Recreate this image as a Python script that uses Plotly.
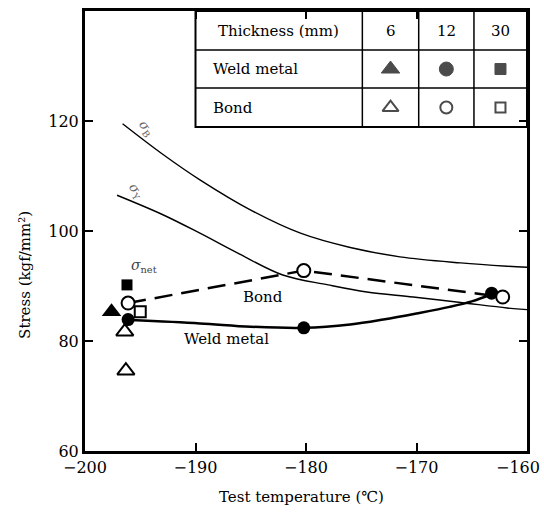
import plotly.graph_objects as go

# ---- data ----
sigma_b_x = [-196.6, -193.0, -189.6, -185.0, -180.5, -176.0, -171.5, -166.0, -161.8, -160.0]
sigma_b_y = [119.5, 114.0, 109.3, 103.8, 99.6, 97.0, 95.3, 94.2, 93.6, 93.4]

sigma_y_x = [-197.1, -193.0, -189.6, -186.0, -182.1, -178.0, -174.5, -170.3, -166.0, -161.8, -160.0]
sigma_y_y = [106.5, 103.0, 99.6, 95.8, 92.0, 90.2, 88.9, 88.0, 87.0, 86.0, 85.7]

weld_curve_x = [-195.9, -189.6, -185.0, -180.2, -176.0, -173.0, -170.0, -167.0, -165.0, -163.2]
weld_curve_y = [83.8, 83.2, 82.6, 82.4, 83.0, 83.9, 85.0, 86.2, 87.2, 88.5]

bond_line_x = [-196.1, -180.2, -162.2]
bond_line_y = [86.9, 92.8, 88.0]

# Weld metal (filled) points
weld_6_x = [-197.6]
weld_6_y = [85.3]
weld_12_x = [-196.1, -180.2, -163.2]
weld_12_y = [83.9, 82.4, 88.7]
weld_30_x = [-196.2]
weld_30_y = [90.2]

# Bond (open) points
bond_6_x = [-196.4, -196.3]
bond_6_y = [81.7, 74.6]
bond_12_x = [-196.1, -180.2, -162.2]
bond_12_y = [86.9, 92.8, 88.0]
bond_30_x = [-195.0]
bond_30_y = [85.3]

# legend table content
table_header = ["Thickness (mm)", "6", "12", "30"]
table_rows = ["Weld metal", "Bond"]
table_col_x = [-190.0, -174.9, -169.8, -164.8, -160.0]
table_row_y = [140.0, 132.9, 126.0, 118.9]

x_ticks = [-200, -190, -180, -170, -160]
x_tick_text = ["−200", "−190", "−180", "−170", "−160"]
y_ticks = [60, 80, 100, 120]

x_title = "Test temperature (℃)"
y_title = "Stress (kgf/mm²)"

serif = "DejaVu Serif"
fig = go.Figure()

# strength curves
fig.add_trace(go.Scatter(x=sigma_b_x, y=sigma_b_y, mode="lines", line_shape="spline",
                         line=dict(color="black", width=1.4), showlegend=False))
fig.add_trace(go.Scatter(x=sigma_y_x, y=sigma_y_y, mode="lines", line_shape="spline",
                         line=dict(color="black", width=1.4), showlegend=False))
fig.add_trace(go.Scatter(x=weld_curve_x, y=weld_curve_y, mode="lines", line_shape="spline",
                         line=dict(color="black", width=2.5), showlegend=False))
fig.add_trace(go.Scatter(x=bond_line_x, y=bond_line_y, mode="lines",
                         line=dict(color="black", width=2.5, dash="18px,9px"), showlegend=False))

def pts(x, y, symbol, size, filled):
    fig.add_trace(go.Scatter(
        x=x, y=y, mode="markers", showlegend=False,
        marker=dict(symbol=symbol, size=size,
                    color="black" if filled else "white",
                    line=dict(color="black", width=0 if filled else 2))))

pts(bond_6_x, bond_6_y, "triangle-up", 15, False)
pts(weld_30_x, weld_30_y, "square", 11, True)
pts(bond_30_x, bond_30_y, "square", 11, False)
pts(weld_6_x, weld_6_y, "triangle-up", 17, True)
pts(weld_12_x, weld_12_y, "circle", 13, True)
pts(bond_12_x, bond_12_y, "circle", 13, False)

# legend table markers
mid_x = [(table_col_x[i] + table_col_x[i + 1]) / 2 for i in range(1, 4)]
row_mid = [(table_row_y[i] + table_row_y[i + 1]) / 2 for i in range(3)]
fig.add_trace(go.Scatter(x=mid_x, y=[row_mid[1]] * 3, mode="markers", showlegend=False,
                         marker=dict(symbol=["triangle-up", "circle", "square"], size=[16, 14, 11],
                                     color="black", line=dict(color="black", width=1))))
fig.add_trace(go.Scatter(x=mid_x, y=[row_mid[2]] * 3, mode="markers", showlegend=False,
                         marker=dict(symbol=["triangle-up", "circle", "square"], size=[14, 12, 10],
                                     color="white", line=dict(color="black", width=2))))

shapes = []
shapes.append(dict(type="rect", xref="x", yref="y", x0=table_col_x[0], x1=table_col_x[-1],
                   y0=table_row_y[-1], y1=table_row_y[0], line=dict(color="black", width=2),
                   fillcolor="white", layer="below"))
for yy in table_row_y[1:-1]:
    shapes.append(dict(type="line", xref="x", yref="y", x0=table_col_x[0], x1=table_col_x[-1],
                       y0=yy, y1=yy, line=dict(color="black", width=1.5)))
for xx in table_col_x[1:-1]:
    shapes.append(dict(type="line", xref="x", yref="y", x0=xx, x1=xx,
                       y0=table_row_y[-1], y1=table_row_y[0], line=dict(color="black", width=1.5)))

tfont = dict(family=serif, size=15, color="black")
annotations = []
annotations.append(dict(x=(table_col_x[0] + table_col_x[1]) / 2, y=row_mid[0], text=table_header[0],
                        showarrow=False, font=tfont))
for i in range(3):
    annotations.append(dict(x=mid_x[i], y=row_mid[0], text=table_header[i + 1], showarrow=False,
                            font=tfont))
for r, name in enumerate(table_rows):
    annotations.append(dict(x=table_col_x[0] + 1.4, y=row_mid[r + 1], text=name, showarrow=False,
                            xanchor="left", font=tfont))

label_font = dict(family=serif, size=15, color="black")
annotations += [
    dict(x=-183.9, y=88.0, text="Bond", showarrow=False, font=label_font),
    dict(x=-187.2, y=80.4, text="Weld metal", showarrow=False, font=label_font),
    dict(x=-194.7, y=93.6, text="<i>σ</i><sub>net</sub>", showarrow=False,
         font=dict(family=serif, size=14, color="#444")),
    dict(x=-194.5, y=118.6, text="<i>σ</i><sub>B</sub>", showarrow=False, textangle=55,
         font=dict(family=serif, size=13, color="#666")),
    dict(x=-195.4, y=107.2, text="<i>σ</i><sub>Y</sub>", showarrow=False, textangle=55,
         font=dict(family=serif, size=13, color="#666")),
    # last x tick label, pulled inside the page edge
    dict(x=x_ticks[-1], xref="x", yref="paper", y=-0.037, text=x_tick_text[-1], showarrow=False,
         xanchor="right", yanchor="middle", xshift=15,
         font=dict(family=serif, size=16, color="black")),
    # axis titles
    dict(xref="paper", yref="paper", x=0.489, y=-0.104, text=x_title, showarrow=False,
         xanchor="center", yanchor="middle", font=dict(family=serif, size=15, color="black")),
    dict(xref="paper", yref="paper", x=-0.136, y=0.40, text=y_title, showarrow=False,
         textangle=-90, xanchor="center", yanchor="middle",
         font=dict(family=serif, size=15, color="black")),
]

fig.update_layout(
    width=544, height=513,
    margin=dict(l=85, r=17, t=11, b=62, autoexpand=False),
    paper_bgcolor="white", plot_bgcolor="white",
    shapes=shapes, annotations=annotations, hovermode=False,
    font=dict(family=serif, size=16, color="black"),
    xaxis=dict(range=[-200, -160], tickvals=x_ticks[:-1], ticktext=x_tick_text[:-1],
               showgrid=False, zeroline=False, showline=True, linecolor="black", linewidth=3,
               mirror="ticks", ticks="inside", ticklen=8, tickwidth=1.5, tickcolor="black",
               ticklabeloverflow="allow", automargin=False,
               tickfont=dict(family=serif, size=16)),
    yaxis=dict(range=[60, 140], tickvals=y_ticks,
               showgrid=False, zeroline=False, showline=True, linecolor="black", linewidth=3,
               mirror="ticks", ticks="inside", ticklen=8, tickwidth=1.5, tickcolor="black",
               ticklabeloverflow="allow", automargin=False,
               tickfont=dict(family=serif, size=16)),
)

fig.write_html("out.html", config={"displayModeBar": False},
               post_script="document.body.style.margin='0';document.body.style.overflow='hidden';")
